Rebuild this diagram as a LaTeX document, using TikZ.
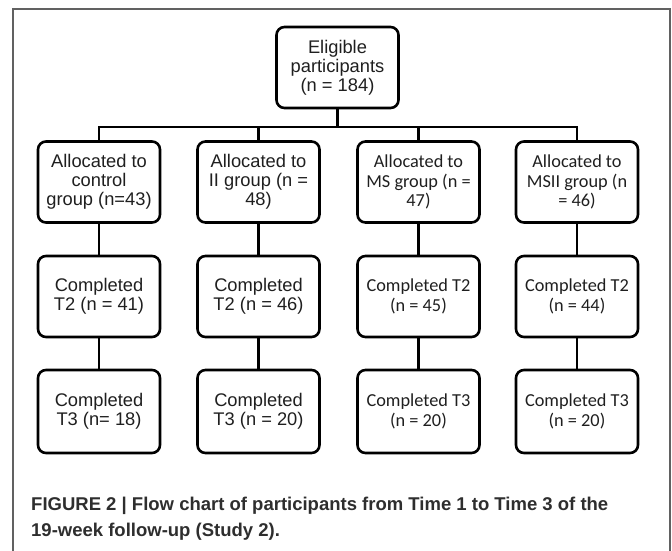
\documentclass[tikz,border=0pt]{standalone}
\usepackage{fontspec}
\setmainfont{Liberation Sans}
\newfontfamily\calfont{Carlito}
\begin{document}
\begin{tikzpicture}[x=1pt,y=-1pt,
  box/.style={draw, line width=2.6pt, rounded corners=8pt, minimum width=122pt, minimum height=81pt, align=center, inner sep=0pt, font=\fontsize{18.3}{19.2}\selectfont, text=black!88},
  cbox/.style={box, font=\calfont\fontsize{18.3}{19.8}\selectfont},
  conn/.style={line width=2.6pt},
  frame/.style={draw=black!62, line width=1.6pt},
  captext/.style={anchor=base west, inner sep=0pt, font=\bfseries\fontsize{18.5}{22}\selectfont, text=black!82}
]
\useasboundingbox (0,0) rectangle (672,550);
\draw[frame] (13,551) -- (13,9) -- (670,9) -- (670,551);

\node[box] (top) at (337.5,67.5) {Eligible\\participants\\(n = 184)};
\coordinate (bus) at (337.5,127);

\node[box] (a1) at (99,182) {Allocated to\\control\\group (n=43)};
\node[box] (a2) at (258.5,182) {Allocated to\\II group (n =\\48)};
\node[cbox] (a3) at (418.5,182) {Allocated to\\MS group (n =\\47)};
\node[cbox] (a4) at (577,182) {Allocated to\\MSII group (n\\= 46)};

\node[box] (b1) at (99,296.5) {Completed\\T2 (n = 41)};
\node[box] (b2) at (258.5,296.5) {Completed\\T2 (n = 46)};
\node[cbox] (b3) at (418.5,296.5) {Completed T2\\(n = 45)};
\node[cbox] (b4) at (577,296.5) {Completed T2\\(n = 44)};

\node[box, minimum height=83pt] (c1) at (99,411.5) {Completed\\T3 (n= 18)};
\node[box, minimum height=83pt] (c2) at (258.5,411.5) {Completed\\T3 (n = 20)};
\node[cbox, minimum height=83pt] (c3) at (418.5,411.5) {Completed T3\\(n = 20)};
\node[cbox, minimum height=83pt] (c4) at (577,411.5) {Completed T3\\(n = 20)};

\draw[conn] (top.south) -- (bus);
\foreach \n in {a1,a2,a3,a4} {\draw[conn] (\n.north) |- (bus);}
\draw[conn] (a1) -- (b1); \draw[conn] (a2) -- (b2); \draw[conn] (a3) -- (b3); \draw[conn] (a4) -- (b4);
\draw[conn] (b1) -- (c1); \draw[conn] (b2) -- (c2); \draw[conn] (b3) -- (c3); \draw[conn] (b4) -- (c4);

\node[captext] (cap1) at (31,510) {FIGURE 2 | Flow chart of participants from Time 1 to Time 3 of the};
\node[captext] (cap2) at (31,536.5) {19-week follow-up (Study 2).};
\end{tikzpicture}
\end{document}
